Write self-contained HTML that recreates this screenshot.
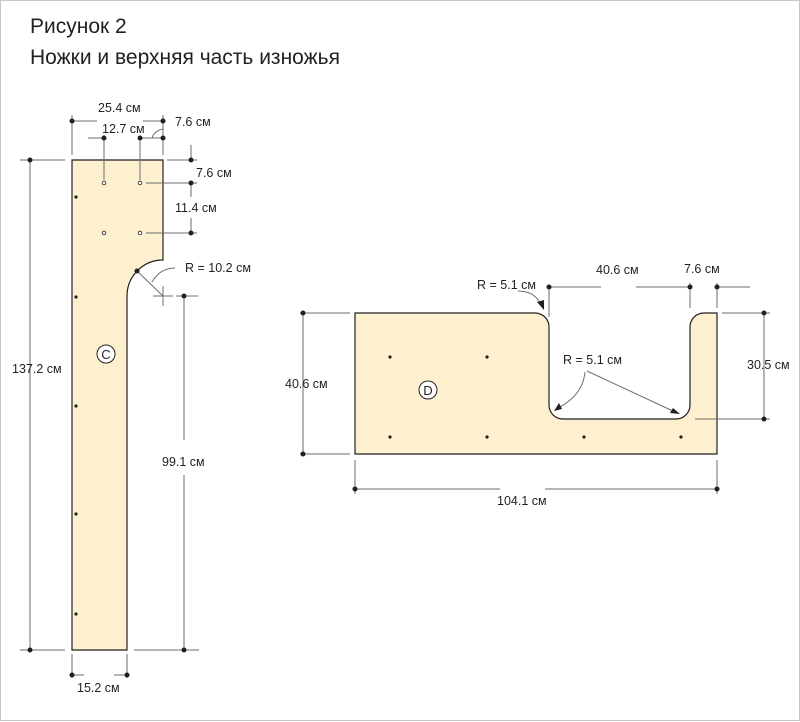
<!DOCTYPE html>
<html><head><meta charset="utf-8"><style>
body{margin:0;background:#fff}
svg{display:block}
text{font-family:"Liberation Sans",sans-serif;fill:#231f20}
</style></head><body>
<svg width="800" height="722" viewBox="0 0 800 722" xmlns="http://www.w3.org/2000/svg">
<rect x="0.5" y="0.5" width="799" height="720" fill="#fff" stroke="#c8c8c8"/>
<text x="30" y="33" font-size="21">Рисунок 2</text>
<text x="30" y="64" font-size="21">Ножки и верхняя часть изножья</text>

<!-- Piece C -->
<path d="M72 160 H163 V260 A36 36 0 0 0 127 296 V650 H72 Z" fill="#fdf0cf" stroke="#231f20" stroke-width="1.2"/>
<g fill="#231f20">
<circle cx="76" cy="197" r="1.6"/><circle cx="76" cy="297" r="1.6"/><circle cx="76" cy="406" r="1.6"/><circle cx="76" cy="514" r="1.6"/><circle cx="76" cy="614" r="1.6"/>
</g>
<g fill="#fff" stroke="#231f20" stroke-width="0.8">
<circle cx="104" cy="183" r="1.8"/><circle cx="140" cy="183" r="1.8"/><circle cx="104" cy="233" r="1.8"/><circle cx="140" cy="233" r="1.8"/>
</g>
<circle cx="106" cy="354" r="9" fill="#fff" stroke="#231f20"/>
<text x="106" y="359" font-size="13" text-anchor="middle">C</text>

<g stroke="#6d6e71" stroke-width="1" fill="none">
<!-- 25.4 -->
<line x1="72" y1="115" x2="72" y2="155"/><line x1="163" y1="115" x2="163" y2="155"/>
<line x1="72" y1="121" x2="97" y2="121"/><line x1="143" y1="121" x2="163" y2="121"/>
<!-- 12.7 -->
<line x1="88" y1="138" x2="104" y2="138"/><line x1="104" y1="138" x2="104" y2="180"/>
<line x1="140" y1="138" x2="140" y2="180"/><line x1="140" y1="138" x2="163" y2="138"/>
<path d="M152 138 Q154 131 163 129"/>
<!-- 137.2 -->
<line x1="20" y1="160" x2="65" y2="160"/><line x1="30" y1="160" x2="30" y2="650"/>
<line x1="20" y1="650" x2="65" y2="650"/>
<!-- right verticals -->
<line x1="167" y1="160" x2="197" y2="160"/><line x1="191" y1="145" x2="191" y2="160"/>
<line x1="146" y1="183" x2="197" y2="183"/><line x1="191" y1="183" x2="191" y2="197"/>
<line x1="146" y1="233" x2="197" y2="233"/><line x1="191" y1="218" x2="191" y2="233"/>
<!-- R 10.2 -->
<line x1="137" y1="271" x2="163" y2="296"/><line x1="163" y1="286" x2="163" y2="306"/>
<line x1="153" y1="296" x2="173" y2="296"/><path d="M152 282 Q160 268 175 268"/>
<!-- 99.1 -->
<line x1="176" y1="296" x2="198" y2="296"/><line x1="184" y1="296" x2="184" y2="440"/>
<line x1="184" y1="475" x2="184" y2="650"/><line x1="134" y1="650" x2="199" y2="650"/>
<!-- 15.2 -->
<line x1="72" y1="654" x2="72" y2="678"/><line x1="127" y1="654" x2="127" y2="678"/>
<line x1="72" y1="675" x2="84" y2="675"/><line x1="114" y1="675" x2="127" y2="675"/>
</g>
<g fill="#231f20">
<circle cx="72" cy="121" r="2.5"/><circle cx="163" cy="121" r="2.5"/>
<circle cx="104" cy="138" r="2.5"/><circle cx="140" cy="138" r="2.5"/><circle cx="163" cy="138" r="2.5"/>
<circle cx="30" cy="160" r="2.5"/><circle cx="30" cy="650" r="2.5"/>
<circle cx="191" cy="160" r="2.5"/><circle cx="191" cy="183" r="2.5"/><circle cx="191" cy="233" r="2.5"/>
<circle cx="137" cy="271" r="2.5"/><circle cx="184" cy="296" r="2.5"/><circle cx="184" cy="650" r="2.5"/>
<circle cx="72" cy="675" r="2.5"/><circle cx="127" cy="675" r="2.5"/>
</g>
<g font-size="12.5">
<text x="98" y="112">25.4 см</text>
<text x="102" y="133">12.7 см</text>
<text x="175" y="126">7.6 см</text>
<text x="196" y="177">7.6 см</text>
<text x="175" y="212">11.4 см</text>
<text x="185" y="272">R = 10.2 см</text>
<text x="162" y="466">99.1 см</text>
<text x="12" y="373">137.2 см</text>
<text x="77" y="692">15.2 см</text>
</g>

<!-- Piece D -->
<path d="M355 313 H535 A14 14 0 0 1 549 327 V405 A14 14 0 0 0 563 419 H676 A14 14 0 0 0 690 405 V327 A14 14 0 0 1 704 313 H717 V454 H355 Z" fill="#fdf0cf" stroke="#231f20" stroke-width="1.2"/>
<g fill="#231f20">
<circle cx="390" cy="357" r="1.6"/><circle cx="487" cy="357" r="1.6"/>
<circle cx="390" cy="437" r="1.6"/><circle cx="487" cy="437" r="1.6"/><circle cx="584" cy="437" r="1.6"/><circle cx="681" cy="437" r="1.6"/>
</g>
<circle cx="428" cy="390" r="9" fill="#fff" stroke="#231f20"/>
<text x="428" y="395" font-size="13" text-anchor="middle" fill="#c1272d">D</text>

<g stroke="#6d6e71" stroke-width="1" fill="none">
<line x1="300" y1="313" x2="350" y2="313"/><line x1="303" y1="313" x2="303" y2="454"/><line x1="300" y1="454" x2="350" y2="454"/>
<line x1="722" y1="313" x2="770" y2="313"/><line x1="764" y1="313" x2="764" y2="419"/><line x1="695" y1="419" x2="770" y2="419"/>
<line x1="355" y1="460" x2="355" y2="494"/><line x1="717" y1="460" x2="717" y2="494"/>
<line x1="355" y1="489" x2="500" y2="489"/><line x1="545" y1="489" x2="717" y2="489"/>
<line x1="549" y1="285" x2="549" y2="317"/><line x1="549" y1="287" x2="601" y2="287"/>
<line x1="636" y1="287" x2="690" y2="287"/><line x1="690" y1="283" x2="690" y2="308"/>
<line x1="717" y1="283" x2="717" y2="308"/><line x1="717" y1="287" x2="750" y2="287"/>
<path d="M518 291 Q535 291 541 305"/>
<path d="M585 372 Q583 395 558 408"/>
<line x1="587" y1="371" x2="675" y2="412"/>
</g>
<g fill="#231f20">
<path d="M544 310 L537 302 L544 300 Z"/>
<path d="M554 411 L559 403 L562 409 Z"/>
<path d="M680 414 L670 413 L673 408 Z"/>
<circle cx="303" cy="313" r="2.5"/><circle cx="303" cy="454" r="2.5"/>
<circle cx="764" cy="313" r="2.5"/><circle cx="764" cy="419" r="2.5"/>
<circle cx="355" cy="489" r="2.5"/><circle cx="717" cy="489" r="2.5"/>
<circle cx="549" cy="287" r="2.5"/><circle cx="690" cy="287" r="2.5"/><circle cx="717" cy="287" r="2.5"/>
</g>
<g font-size="12.5">
<text x="477" y="289">R = 5.1 см</text>
<text x="596" y="274">40.6 см</text>
<text x="684" y="273">7.6 см</text>
<text x="563" y="364">R = 5.1 см</text>
<text x="285" y="388">40.6 см</text>
<text x="747" y="369">30.5 см</text>
<text x="497" y="505">104.1 см</text>
</g>
</svg>
</body></html>
